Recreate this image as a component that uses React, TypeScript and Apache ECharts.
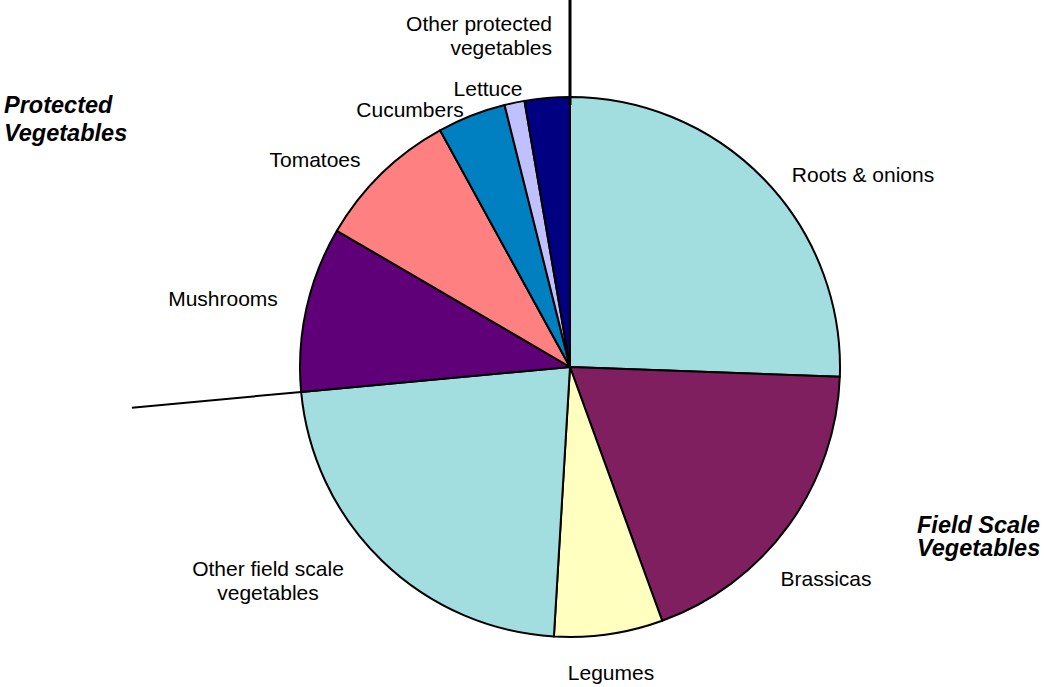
import React, { useEffect, useRef } from "react";
import * as echarts from "echarts";

const categories = [
  "Roots & onions",
  "Brassicas",
  "Legumes",
  "Other field scale\nvegetables",
  "Mushrooms",
  "Tomatoes",
  "Cucumbers",
  "Lettuce",
  "Other protected\nvegetables",
];
const values = [25.6, 18.9, 6.5, 22.6, 9.9, 8.6, 4.1, 1.2, 2.7];
const colors = ["#A2DEE0", "#7F1F5F", "#FFFFC0", "#A2DEE0", "#5F0078", "#FF8080", "#0080C0", "#C0C0FF", "#000080"];

// label anchor positions (x, y, align)
const labelPos: [number, number, string][] = [
  [863, 174, "center"],
  [826, 578, "center"],
  [611, 672, "center"],
  [268, 580, "center"],
  [223, 298, "center"],
  [315, 159, "center"],
  [410, 109, "center"],
  [488, 88, "center"],
  [552, 35, "right"],
];

const CX = 570;
const CY = 367;
const R = 270;

export default function App() {
  const ref = useRef<HTMLDivElement>(null);
  useEffect(() => {
    if (!ref.current) return;
    const chart = echarts.init(ref.current, undefined, { renderer: "svg" });
    const total = values.reduce((a, b) => a + b, 0);
    // boundary between field scale (first 4) and protected groups
    const fieldSum = values.slice(0, 4).reduce((a, b) => a + b, 0);
    const theta = (fieldSum / total) * Math.PI * 2;
    const pt = (r: number, t: number) => [CX + r * Math.sin(t), CY - r * Math.cos(t)];
    const a1 = pt(R, theta);
    const a2 = pt(440, theta);
    const b1 = pt(262, 0);
    const b2 = pt(370, 0);
    chart.setOption({
      animation: false,
      backgroundColor: "#ffffff",
      textStyle: { fontFamily: "'Liberation Sans', Arial, sans-serif" },
      graphic: [
        {
          type: "line",
          shape: { x1: a1[0], y1: a1[1], x2: a2[0], y2: a2[1] },
          style: { stroke: "#000", lineWidth: 2 },
          z: 10,
        },
        {
          type: "line",
          shape: { x1: b1[0], y1: b1[1], x2: b2[0], y2: b2[1] },
          style: { stroke: "#000", lineWidth: 3 },
          z: 10,
        },
        {
          type: "text",
          left: 4,
          top: 91,
          style: {
            text: "Protected\nVegetables",
            font: "italic bold 23.5px 'Liberation Sans', Arial, sans-serif",
            fill: "#000",
            lineHeight: 28,
          },
        },
        {
          type: "text",
          left: 917,
          top: 513,
          style: {
            text: "Field Scale\nVegetables",
            font: "italic bold 23.5px 'Liberation Sans', Arial, sans-serif",
            fill: "#000",
            lineHeight: 23.5,
          },
        },
      ],
      series: [
        {
          type: "pie",
          center: [CX, CY],
          radius: [0, R],
          startAngle: 90,
          clockwise: true,
          avoidLabelOverlap: false,
          label: {
            show: true,
            position: "outside",
            color: "#000",
            fontSize: 21,
            lineHeight: 24,
            fontFamily: "'Liberation Sans', Arial, sans-serif",
          },
          labelLine: { show: false },
          labelLayout: (params: any) => {
            const p = labelPos[params.dataIndex];
            return { x: p[0], y: p[1], align: p[2], verticalAlign: "middle" };
          },
          itemStyle: { borderColor: "#000", borderWidth: 2 },
          emphasis: { disabled: true },
          data: categories.map((c, i) => ({
            name: c,
            value: values[i],
            itemStyle: { color: colors[i] },
            label: { align: labelPos[i][2] },
          })),
        },
      ],
    });
    return () => chart.dispose();
  }, []);
  return (
    <div
      ref={ref}
      style={{ position: "fixed", left: 0, top: 0, width: 1044, height: 687 }}
    />
  );
}
